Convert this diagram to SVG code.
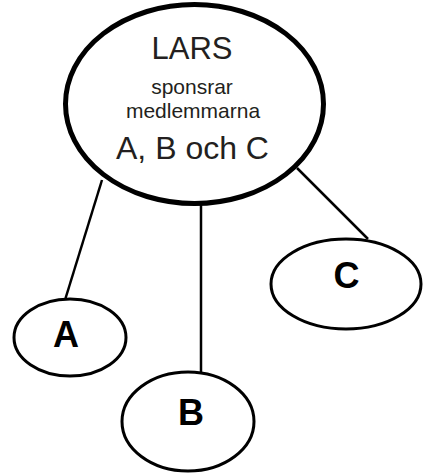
<svg xmlns="http://www.w3.org/2000/svg" width="423" height="473" viewBox="0 0 423 473">
<style>
.e{fill:#fff;stroke:#000;stroke-width:3}
.big{fill:#fff;stroke:#000;stroke-width:5}
.c{stroke:#000;stroke-width:2.5;fill:none}
.t{font-family:"Liberation Sans",Arial,sans-serif;fill:#231f20;text-anchor:middle}
.l{font-family:"Liberation Sans",Arial,sans-serif;font-weight:bold;font-size:36px;fill:#000;text-anchor:middle}
</style>
<rect width="423" height="473" fill="#fff"/>
<g id="connectors">
<line class="c" x1="102" y1="180" x2="65" y2="300"/>
<line class="c" x1="201" y1="200" x2="201" y2="373"/>
<line class="c" x1="297" y1="168" x2="368" y2="239"/>
</g>
<g id="lars">
<ellipse class="big" cx="194.5" cy="104" rx="129" ry="99.5"/>
<text class="t" x="192" y="59" font-size="31">LARS</text>
<text class="t" x="192" y="94" font-size="21">sponsrar</text>
<text class="t" x="193" y="118" font-size="21">medlemmarna</text>
<text class="t" x="192.5" y="159" font-size="32">A, B och C</text>
</g>
<g id="a">
<ellipse class="e" cx="70" cy="337.5" rx="56" ry="38.5"/>
<text class="l" x="66" y="347">A</text>
</g>
<g id="b">
<ellipse class="e" cx="188" cy="421.5" rx="66" ry="49.5"/>
<text class="l" x="191" y="425">B</text>
</g>
<g id="c">
<ellipse class="e" cx="346" cy="284" rx="75" ry="45"/>
<text class="l" x="346.5" y="288">C</text>
</g>
</svg>
